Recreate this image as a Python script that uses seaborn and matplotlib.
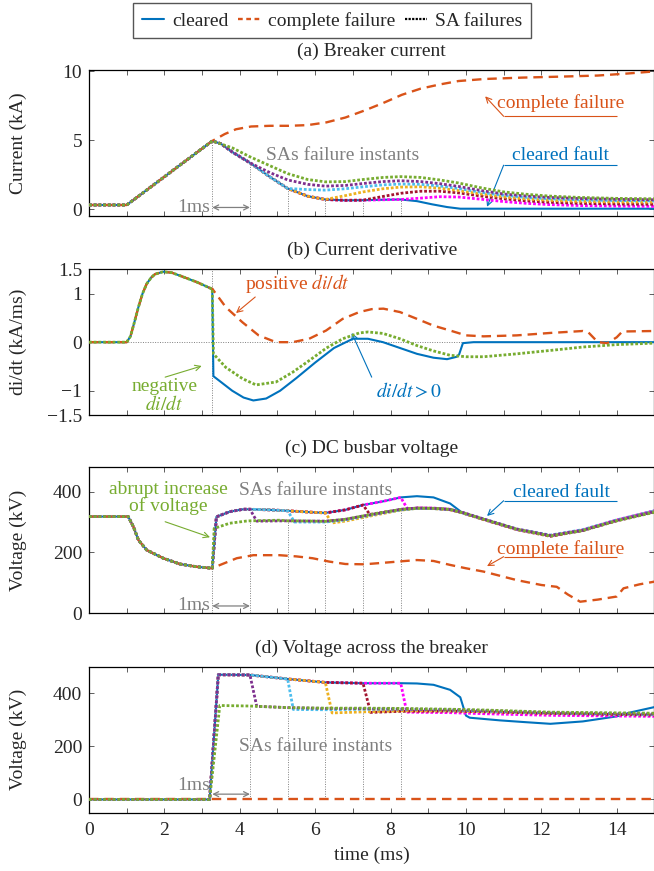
import seaborn as sns
import matplotlib.pyplot as plt
from matplotlib.lines import Line2D

# colours
c_clr = "#0072BD"
c_cf = "#D95319"
sa_colors = ["#77AC30", "#7E2F8E", "#4DBEEE", "#EDB120", "#A2142F", "#FF00FF"]
grey = "#808080"

fail_t = [3.27, 4.27, 5.27, 6.27, 7.27, 8.27]

# ---------------- (a) breaker current (kA)
t_a_clr = [0, 1.0, 3.27, 3.5, 3.8, 4.27, 4.8, 5.27, 5.8, 6.27, 6.8, 7.27, 7.8, 8.27, 8.7, 9.1, 9.5, 9.85, 15]
i_clr = [0.3, 0.3, 4.95, 4.75, 4.15, 3.36, 2.34, 1.5, 0.94, 0.7, 0.64, 0.65, 0.68, 0.7, 0.58, 0.35, 0.15, 0.03, 0.03]
t_a_cf = [3.27, 3.6, 3.9, 4.3, 4.8, 5.3, 5.8, 6.3, 6.8, 7.3, 7.8, 8.3, 8.8, 9.3, 9.8, 10.5, 11.5, 12.5, 13.5, 14.3, 15]
i_cf = [4.95, 5.45, 5.8, 6.0, 6.05, 6.05, 6.1, 6.3, 6.65, 7.15, 7.7, 8.3, 8.75, 9.05, 9.3, 9.45, 9.55, 9.62, 9.7, 9.85, 10.0]
t_a_sa = [
    [3.27, 3.8, 4.27, 4.8, 5.27, 5.8, 6.27, 6.8, 7.27, 7.8, 8.27, 8.8, 9.3, 9.8, 10.4, 11.0, 11.6, 12.2, 13.0, 14.0, 15],
    [4.27, 4.8, 5.27, 5.8, 6.27, 6.8, 7.27, 7.8, 8.27, 8.8, 9.3, 9.8, 10.4, 11.0, 11.6, 12.2, 13.0, 14.0, 15],
    [5.27, 5.8, 6.27, 6.8, 7.27, 7.8, 8.27, 8.8, 9.3, 9.8, 10.4, 11.0, 11.6, 12.2, 13.0, 14.0, 15],
    [6.27, 6.8, 7.27, 7.8, 8.27, 8.8, 9.3, 9.8, 10.4, 11.0, 11.6, 12.2, 13.0, 14.0, 15],
    [7.27, 7.8, 8.27, 8.8, 9.3, 9.8, 10.4, 11.0, 11.6, 12.2, 13.0, 14.0, 15],
    [8.27, 8.8, 9.3, 9.8, 10.4, 11.0, 11.6, 12.2, 13.0, 14.0, 15],
]
i_sa = [
    [4.95, 4.45, 3.8, 3.15, 2.58, 2.15, 1.98, 2.0, 2.15, 2.3, 2.36, 2.3, 2.12, 1.9, 1.55, 1.25, 1.08, 0.95, 0.85, 0.78, 0.75],
    [3.36, 2.65, 2.12, 1.8, 1.67, 1.72, 1.86, 2.0, 2.06, 2.0, 1.85, 1.65, 1.35, 1.1, 0.95, 0.85, 0.77, 0.71, 0.68],
    [1.5, 1.42, 1.38, 1.48, 1.62, 1.76, 1.82, 1.8, 1.68, 1.5, 1.22, 1.0, 0.85, 0.75, 0.67, 0.62, 0.6],
    [0.7, 0.98, 1.25, 1.48, 1.6, 1.62, 1.52, 1.35, 1.1, 0.88, 0.74, 0.64, 0.56, 0.52, 0.5],
    [0.65, 0.92, 1.15, 1.3, 1.3, 1.18, 0.95, 0.75, 0.6, 0.5, 0.42, 0.37, 0.35],
    [0.7, 0.8, 0.9, 0.88, 0.72, 0.55, 0.42, 0.33, 0.26, 0.22, 0.2],
]

# ---------------- (b) current derivative (kA/ms)
t_b_pre = [0, 1.0, 1.1, 1.2, 1.31, 1.42, 1.53, 1.65, 1.75, 1.97, 2.2, 2.41, 2.85, 3.25]
d_pre = [0, 0, 0.12, 0.4, 0.72, 1.0, 1.2, 1.33, 1.4, 1.45, 1.43, 1.37, 1.24, 1.1]
t_b_clr = [3.27, 3.3, 3.5, 3.8, 4.1, 4.36, 4.7, 5.07, 5.5, 6.0, 6.5, 7.0, 7.4, 7.8, 8.25, 8.7, 9.14, 9.5, 9.76, 9.82, 9.92, 10.2, 15]
d_clr = [1.1, -0.7, -0.82, -1.0, -1.14, -1.2, -1.16, -1.0, -0.74, -0.42, -0.12, 0.07, 0.07, 0.0, -0.12, -0.24, -0.32, -0.35, -0.3, -0.25, -0.02, 0.0, 0.0]
t_b_cf = [3.27, 3.63, 4.07, 4.5, 4.96, 5.4, 5.84, 6.29, 6.73, 7.17, 7.5, 7.81, 8.25, 8.7, 9.14, 9.58, 10.0, 10.47, 11.35, 12.24, 13.1, 13.25, 13.5, 13.75, 14.0, 14.15, 15]
d_cf = [1.1, 0.72, 0.41, 0.14, 0.0, 0.0, 0.07, 0.24, 0.48, 0.62, 0.68, 0.69, 0.62, 0.48, 0.34, 0.24, 0.14, 0.12, 0.14, 0.19, 0.23, 0.2, 0.0, -0.02, 0.1, 0.22, 0.23]
t_b_sa = [3.27, 3.3, 3.63, 4.07, 4.43, 4.96, 5.4, 5.84, 6.3, 6.73, 7.17, 7.4, 7.8, 8.25, 8.7, 9.14, 9.58, 10.0, 10.47, 11.35, 12.24, 13.1, 14.0, 15]
d_sa = [1.1, -0.24, -0.52, -0.75, -0.88, -0.82, -0.62, -0.38, -0.12, 0.07, 0.19, 0.21, 0.18, 0.07, -0.07, -0.18, -0.27, -0.3, -0.3, -0.24, -0.17, -0.1, -0.05, -0.02]

# ---------------- (c) DC busbar voltage (kV)
t_c_clr = [0, 1.04, 1.18, 1.31, 1.53, 1.97, 2.41, 2.85, 3.27, 3.38, 3.73, 4.09, 4.27, 4.8, 5.27, 5.8, 6.27, 6.8, 7.27, 7.8,
           8.27, 8.7, 9.14, 9.58, 9.93, 10.47, 11.35, 12.24, 13.1, 14.0, 15]
u_clr = [318, 318, 284, 241, 208, 181, 162, 153, 148, 317, 334, 342, 342, 340, 337, 333, 330, 340, 356, 368,
         381, 385, 381, 361, 328, 309, 276, 254, 272, 306, 338]
t_c_cf = [3.27, 3.48, 3.92, 4.36, 5.05, 5.5, 5.93, 6.37, 6.8, 7.3, 7.81, 8.3, 8.7, 9.14, 9.58, 10.0, 10.47, 11.35, 12.0,
          12.41, 12.7, 13.03, 13.5, 14.0, 14.18, 14.6, 15]
u_cf = [148, 159, 181, 191, 191, 187, 181, 170, 162, 161, 166, 171, 175, 172, 159, 148, 137, 109, 93,
        87, 62, 38, 45, 55, 82, 95, 104]
t_c_sa = [
    [3.27, 3.32, 3.73, 4.16, 4.27, 5.05, 5.27, 5.93, 6.27, 6.8, 7.27, 7.7, 8.27, 8.7, 9.14, 9.58, 9.93, 10.47, 11.35, 12.24, 13.1, 14.0, 15],
    [4.27, 4.45, 5.27, 6.27, 6.8, 7.27, 7.8, 8.27, 8.7, 9.14, 9.58, 9.93, 10.47, 11.35, 12.24, 13.1, 14.0, 15],
    [5.27, 5.45, 6.27, 6.8, 7.27, 7.8, 8.27, 8.7, 9.14, 9.58, 9.93, 10.47, 11.35, 12.24, 13.1, 14.0, 15],
    [6.27, 6.45, 6.8, 7.27, 7.8, 8.27, 8.7, 9.14, 9.58, 9.93, 10.47, 11.35, 12.24, 13.1, 14.0, 15],
    [7.27, 7.45, 7.8, 8.27, 8.7, 9.14, 9.58, 9.93, 10.47, 11.35, 12.24, 13.1, 14.0, 15],
    [8.27, 8.45, 8.7, 9.14, 9.58, 9.93, 10.47, 11.35, 12.24, 13.1, 14.0, 15],
]
u_sa = [
    [148, 279, 296, 303, 304, 306, 304, 303, 302, 309, 320, 330, 341, 345, 345, 342, 330, 309, 276, 254, 272, 304, 332],
    [342, 303, 304, 303, 309, 320, 331, 342, 346, 345, 341, 331, 310, 277, 256, 273, 305, 334],
    [337, 300, 300, 307, 318, 330, 340, 345, 344, 341, 330, 310, 277, 257, 275, 307, 336],
    [330, 297, 303, 315, 328, 339, 345, 344, 340, 329, 309, 276, 255, 274, 306, 336],
    [356, 325, 332, 341, 346, 345, 341, 329, 308, 275, 253, 272, 304, 333],
    [381, 343, 346, 346, 342, 330, 309, 276, 255, 274, 307, 337],
]

# ---------------- (d) voltage across the breaker (kV)
t_d_clr = [0, 3.2, 3.43, 4.27, 5.27, 6.27, 7.27, 8.27, 8.7, 9.14, 9.58, 9.85, 10.0, 10.1, 10.9, 11.5, 12.24, 13.1, 14.0, 14.4, 15]
w_clr = [0, 0, 470, 469, 454, 441, 438, 438, 437, 432, 413, 385, 316, 308, 298, 292, 285, 294, 313, 329, 348]
t_d_cf = [0, 15]
w_cf = [0, 0]
t_d_sa = [
    [3.2, 3.47, 4.27, 5.27, 6.27, 7.27, 8.27, 9.58, 10.5, 12.24, 15],
    [4.27, 4.45, 5.27, 6.27, 7.27, 8.27, 9.58, 10.5, 12.24, 15],
    [5.27, 5.42, 6.27, 7.27, 8.27, 9.58, 10.5, 12.24, 15],
    [6.27, 6.45, 7.27, 8.27, 9.58, 10.5, 12.24, 15],
    [7.27, 7.47, 8.27, 9.58, 10.5, 12.24, 15],
    [8.27, 8.43, 9.58, 10.5, 12.24, 15],
]
w_sa = [
    [0, 354, 352, 346, 344, 344, 343, 340, 337, 329, 325],
    [469, 351, 346, 343, 342, 341, 338, 335, 327, 322],
    [454, 339, 338, 340, 340, 337, 333, 326, 320],
    [441, 326, 330, 334, 334, 331, 325, 320],
    [438, 328, 332, 333, 330, 324, 318],
    [438, 329, 327, 323, 317, 313],
]


def branch(t_base, v_base, t_own, v_own):
    # curve follows the base one until it departs at t_own[0]
    t = [x for x in t_base if x < t_own[0]] + list(t_own)
    v = [y for x, y in zip(t_base, v_base) if x < t_own[0]] + list(v_own)
    return t, v


sns.set_theme(style="ticks", rc={
    "xtick.direction": "in", "ytick.direction": "in",
    "xtick.top": True, "ytick.right": True,
    "xtick.major.size": 3.5, "ytick.major.size": 3.5,
    "xtick.major.width": 0.6, "ytick.major.width": 0.6,
    "xtick.major.pad": 6.5, "ytick.major.pad": 5,
    "axes.linewidth": 0.9, "axes.edgecolor": "black",
})
plt.rcParams["font.family"] = ["Liberation Serif", "DejaVu Serif"]
plt.rcParams["mathtext.fontset"] = "stix"
plt.rcParams["font.size"] = 14

fs = 14
dash = (0, (4, 2.5))
dot = (0, (1, 0.7))
lw_c, lw_cf, lw_sa = 1.5, 1.7, 2.0
guide = dict(color=grey, linestyle=(0, (1, 1.5)), linewidth=0.7, zorder=1)

fig = plt.figure(figsize=(6.54, 8.71), dpi=100)
left, width = 0.1361, 0.8645
axa = fig.add_axes([left, 0.7520, width, 0.1676])
axb = fig.add_axes([left, 0.5235, width, 0.1673])
axc = fig.add_axes([left, 0.2959, width, 0.1676])
axd = fig.add_axes([left, 0.0669, width, 0.1676])


def line(ax, t, v, color, ls, lw, z):
    sns.lineplot(x=t, y=v, ax=ax, color=color, linestyle=ls, linewidth=lw,
                 estimator=None, sort=False, zorder=z)


def panel(ax, t_clr, v_clr, t_cf, v_cf, t_sa, v_sa):
    line(ax, t_clr, v_clr, c_clr, "-", lw_c, 3)
    tt, vv = branch(t_clr, v_clr, t_cf, v_cf)
    line(ax, tt, vv, c_cf, dash, lw_cf, 4)
    for k in range(len(t_sa) - 1, -1, -1):
        tt, vv = branch(t_clr, v_clr, t_sa[k], v_sa[k])
        line(ax, tt, vv, sa_colors[k], dot, lw_sa, 5 + len(t_sa) - k)


def one_ms(ax, y_arrow, y_text):
    ax.annotate("", xy=(fail_t[1], y_arrow), xytext=(fail_t[0], y_arrow),
                arrowprops=dict(arrowstyle="<->", color=grey, lw=0.9, shrinkA=0, shrinkB=0,
                                mutation_scale=9))
    ax.text(fail_t[0] - 0.07, y_text, "1ms", color=grey, fontsize=fs, ha="right", va="center")


def pin(ax, text, xy_text, tail, tip, color, underline=None):
    ax.text(xy_text[0], xy_text[1], text, color=color, fontsize=fs, ha="center", va="center",
            linespacing=1.0)
    if underline is not None:
        ax.hlines(tail[1], underline[0], underline[1], color=color, linewidth=0.8)
    ax.annotate("", xy=tip, xytext=tail,
                arrowprops=dict(arrowstyle="->", color=color, lw=0.8, shrinkA=0, shrinkB=0,
                                mutation_scale=10))


# (a)
panel(axa, t_a_clr, i_clr, t_a_cf, i_cf, t_a_sa, i_sa)
axa.vlines(fail_t, -0.5, [4.95, 3.36, 1.5, 0.7, 0.65, 0.7], **guide)
one_ms(axa, 0.12, 0.1)
axa.text(6.72, 3.9, "SAs failure instants", color=grey, fontsize=fs, ha="center", va="center")
pin(axa, "complete failure", (12.5, 7.68), (11.0, 6.74), (10.51, 8.19), c_cf, (11.0, 14.0))
pin(axa, "cleared fault", (12.5, 3.9), (11.0, 3.19), (10.56, 0.17), c_clr, (11.0, 14.0))
axa.set_ylim(-0.5, 10.1)
axa.set_yticks([0, 5, 10])
axa.set_ylabel("Current (kA)", fontsize=fs)
axa.set_title("(a) Breaker current", fontsize=fs, pad=10)

# (b)
line(axb, t_b_pre + t_b_clr, d_pre + d_clr, c_clr, "-", lw_c, 3)
line(axb, t_b_pre + t_b_cf, d_pre + d_cf, c_cf, dash, lw_cf, 4)
line(axb, t_b_pre + t_b_sa, d_pre + d_sa, sa_colors[0], dot, lw_sa, 5)
axb.axhline(0, **guide)
axb.axvline(fail_t[0], **guide)
pin(axb, "positive $di/dt$", (5.52, 1.21), (4.41, 0.93), (3.9, 0.6), c_cf)
pin(axb, "negative\n$di/dt$", (2.0, -1.1), (2.02, -0.72), (2.99, -0.49), sa_colors[0])
pin(axb, "$di/dt > 0$", (8.5, -1.0), (7.5, -0.72), (6.97, 0.19), c_clr)
axb.set_ylim(-1.5, 1.5)
axb.set_yticks([-1.5, -1, 0, 1, 1.5])
axb.set_yticklabels(["\u22121.5", "\u22121", "0", "1", "1.5"])
axb.set_ylabel("di/dt (kA/ms)", fontsize=fs)
axb.set_title("(b) Current derivative", fontsize=fs, pad=10)

# (c)
panel(axc, t_c_clr, u_clr, t_c_cf, u_cf, t_c_sa, u_sa)
axc.vlines(fail_t, 0, [148, 303, 300, 297, 325, 343], **guide)
one_ms(axc, 24, 24)
axc.text(6.0, 405, "SAs failure instants", color=grey, fontsize=fs, ha="center", va="center")
pin(axc, "abrupt increase\nof voltage", (2.1, 379), (2.02, 301), (3.21, 250), sa_colors[0])
pin(axc, "cleared fault", (12.53, 396), (11.0, 370), (10.56, 320), c_clr, (11.0, 14.0))
pin(axc, "complete failure", (12.5, 210), (11.0, 186), (10.56, 155), c_cf, (11.0, 14.0))
axc.set_ylim(0, 480)
axc.set_yticks([0, 200, 400])
axc.set_ylabel("Voltage (kV)", fontsize=fs)
axc.set_title("(c) DC busbar voltage", fontsize=fs, pad=10)

# (d)
panel(axd, t_d_clr, w_clr, t_d_cf, w_cf, t_d_sa, w_sa)
axd.vlines(fail_t[1:], 0, [351, 340, 327, 328, 329], **guide)
one_ms(axd, 20, 54)
axd.text(6.0, 200, "SAs failure instants", color=grey, fontsize=fs, ha="center", va="center")
axd.set_ylim(-50, 500)
axd.set_yticks([0, 200, 400])
axd.set_ylabel("Voltage (kV)", fontsize=fs)
axd.set_xlabel("time (ms)", fontsize=fs, labelpad=6)
axd.set_title("(d) Voltage across the breaker", fontsize=fs, pad=10)

for ax in (axa, axb, axc, axd):
    ax.set_xlim(0, 15)
    ax.set_xticks(range(0, 16))
    ax.set_xticklabels([str(x) if x % 2 == 0 else "" for x in range(0, 16)])
    ax.tick_params(labelsize=fs, color="#444444")
    ax.yaxis.set_label_coords(-0.11, 0.5)
for ax in (axa, axb, axc):
    ax.tick_params(labelbottom=False)

handles = [Line2D([], [], color=c_clr, linewidth=lw_c),
           Line2D([], [], color=c_cf, linewidth=lw_cf, linestyle=(0, (2, 1.5))),
           Line2D([], [], color="black", linewidth=1.6, linestyle=(0, (1, 0.6)))]
fig.legend(handles, ["cleared", "complete failure", "SA failures"], loc="upper center",
           bbox_to_anchor=(332 / 654, 1 - 3 / 871), ncol=3, frameon=True, fancybox=False,
           edgecolor="#555555", framealpha=1, fontsize=fs, handlelength=1.15,
           handletextpad=0.4, columnspacing=0.5, borderpad=0.45, borderaxespad=0)

fig.savefig("out.png", dpi=100)
